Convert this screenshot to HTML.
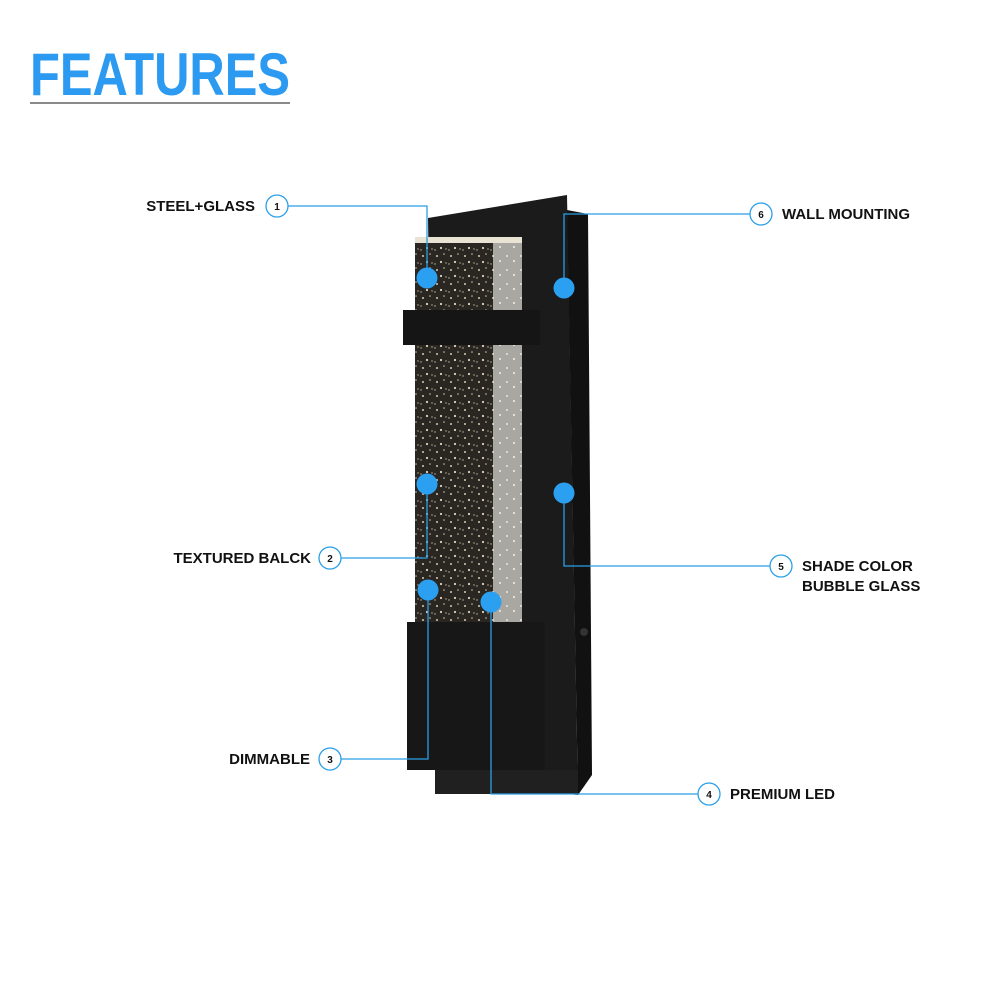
<!DOCTYPE html>
<html><head><meta charset="utf-8"><style>
html,body{margin:0;padding:0;background:#fff;width:1000px;height:1000px;overflow:hidden}
svg{display:block}
text{font-family:"Liberation Sans",Arial,sans-serif;font-weight:bold}
</style></head><body>
<svg width="1000" height="1000" viewBox="0 0 1000 1000" xmlns="http://www.w3.org/2000/svg">
<defs>
<pattern id="bub" width="14" height="14" patternUnits="userSpaceOnUse">
<rect width="14" height="14" fill="#2a2622"/>
<circle cx="3" cy="4" r="1" fill="#d8cbb0"/><circle cx="10" cy="2" r="0.8" fill="#cfc2a8"/>
<circle cx="7" cy="10" r="1.1" fill="#e0d4bc"/><circle cx="12" cy="11" r="0.7" fill="#bfb39a"/>
<circle cx="1" cy="12" r="0.7" fill="#c9bda5"/>
</pattern>
<pattern id="bub2" width="14" height="14" patternUnits="userSpaceOnUse">
<rect width="14" height="14" fill="#a9a7a2"/>
<circle cx="3" cy="4" r="1" fill="#e8e6e0"/><circle cx="10" cy="9" r="1" fill="#f0eee8"/>
</pattern>
</defs>
<text x="30" y="95" font-size="60" fill="#2b9af0" textLength="260" lengthAdjust="spacingAndGlyphs">FEATURES</text>
<rect x="30" y="102" width="260" height="2" fill="#8a8a8a"/>

<polygon points="428,218 567,195 578,795 436,781" fill="#1b1b1b"/>
<polygon points="567,210 588,214 592,775 578,795" fill="#111"/>
<rect x="415" y="237" width="80" height="388" fill="url(#bub)"/>
<rect x="493" y="237" width="29" height="388" fill="url(#bub2)"/>
<rect x="415" y="237" width="107" height="6" fill="#e9e3d4"/>
<rect x="403" y="310" width="137" height="35" fill="#151515"/>
<rect x="407" y="622" width="138" height="148" fill="#171717"/>
<rect x="435" y="770" width="143" height="24" fill="#202020"/>
<circle cx="584" cy="632" r="4" fill="#333"/>

<g stroke="#2a9ee8" stroke-width="1.3" fill="none">
<polyline points="288,206 427,206 427,278"/>
<polyline points="750,214 564,214 564,288"/>
<polyline points="341,558 427,558 427,484"/>
<polyline points="341,759 428,759 428,590"/>
<polyline points="770,566 564,566 564,493"/>
<polyline points="698,794 491,794 491,602"/>
</g>
<g fill="#2b9ff0">
<circle cx="427" cy="278" r="10.5"/><circle cx="564" cy="288" r="10.5"/>
<circle cx="427" cy="484" r="10.5"/><circle cx="564" cy="493" r="10.5"/>
<circle cx="428" cy="590" r="10.5"/><circle cx="491" cy="602" r="10.5"/>
</g>
<g fill="#fff" stroke="#2a9ee8" stroke-width="1.3">
<circle cx="277" cy="206" r="11"/><circle cx="761" cy="214" r="11"/>
<circle cx="330" cy="558" r="11"/><circle cx="330" cy="759" r="11"/>
<circle cx="781" cy="566" r="11"/><circle cx="709" cy="794" r="11"/>
</g>
<g font-size="10" fill="#111" text-anchor="middle">
<text x="277" y="210">1</text><text x="761" y="218">6</text>
<text x="330" y="562">2</text><text x="330" y="763">3</text>
<text x="781" y="570">5</text><text x="709" y="798">4</text>
</g>
<g font-size="15" fill="#111">
<text x="255" y="211" text-anchor="end">STEEL+GLASS</text>
<text x="311" y="563" text-anchor="end">TEXTURED BALCK</text>
<text x="310" y="764" text-anchor="end">DIMMABLE</text>
<text x="782" y="219">WALL MOUNTING</text>
<text x="802" y="571">SHADE COLOR</text>
<text x="802" y="591">BUBBLE GLASS</text>
<text x="730" y="799">PREMIUM LED</text>
</g>
</svg>
</body></html>
